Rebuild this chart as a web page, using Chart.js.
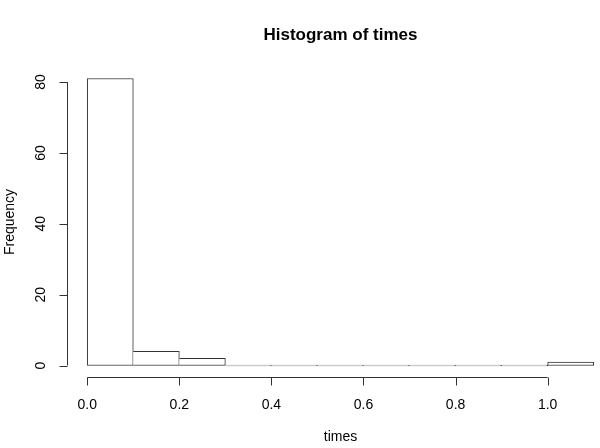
<!DOCTYPE html>
<html>
<head>
<meta charset="utf-8">
<style>
  html, body { margin: 0; padding: 0; background: #fff; }
  #wrap { width: 600px; height: 448px; position: relative; }
</style>
<script src="https://cdn.jsdelivr.net/npm/chart.js@4/dist/chart.umd.min.js"></script>
</head>
<body>
<div id="wrap"><canvas id="c" width="600" height="448"></canvas></div>
<script>
// ---- data ----
const breaks = [0.0, 0.1, 0.2, 0.3, 0.4, 0.5, 0.6, 0.7, 0.8, 0.9, 1.0, 1.1];
const counts = [81, 4, 2, 0, 0, 0, 0, 0, 0, 0, 1];
const xTicks = [0.0, 0.2, 0.4, 0.6, 0.8, 1.0];
const xTickLabels = ['0.0', '0.2', '0.4', '0.6', '0.8', '1.0'];
const yTicks = [0, 20, 40, 60, 80];
const yTickLabels = ['0', '20', '40', '60', '80'];
const titleText = 'Histogram of times';
const xLabel = 'times';
const yLabel = 'Frequency';

const points = counts.map((c, i) => ({ x: (breaks[i] + breaks[i + 1]) / 2, y: c }));

const FONT = '"Liberation Sans", Arial, Helvetica, sans-serif';
const INK = '#333';

const rAxes = {
  id: 'rAxes',
  afterDraw(chart) {
    const ctx = chart.ctx;
    const xs = chart.scales.x, ys = chart.scales.y;
    const area = chart.chartArea;
    ctx.save();
    ctx.strokeStyle = INK;
    ctx.fillStyle = '#000';
    ctx.lineWidth = 1;

    // y axis
    const ax = Math.round(area.left) + 0.5;
    ctx.beginPath();
    ctx.moveTo(ax, ys.getPixelForValue(yTicks[0]));
    ctx.lineTo(ax, ys.getPixelForValue(yTicks[yTicks.length - 1]));
    yTicks.forEach(v => {
      const py = Math.round(ys.getPixelForValue(v)) + 0.5;
      ctx.moveTo(ax, py);
      ctx.lineTo(ax - 8, py);
    });
    ctx.stroke();
    ctx.font = '14px ' + FONT;
    ctx.textAlign = 'center';
    ctx.textBaseline = 'middle';
    yTicks.forEach((v, i) => {
      const py = ys.getPixelForValue(v);
      ctx.save();
      ctx.translate(41.5, py);
      ctx.rotate(-Math.PI / 2);
      ctx.fillText(yTickLabels[i], 0, 0);
      ctx.restore();
    });

    // x axis
    const ay = Math.round(area.bottom) + 0.5;
    ctx.beginPath();
    ctx.moveTo(xs.getPixelForValue(xTicks[0]), ay);
    ctx.lineTo(xs.getPixelForValue(xTicks[xTicks.length - 1]), ay);
    xTicks.forEach(v => {
      const px = Math.round(xs.getPixelForValue(v)) + 0.5;
      ctx.moveTo(px, ay);
      ctx.lineTo(px, ay + 8);
    });
    ctx.stroke();
    xTicks.forEach((v, i) => {
      ctx.fillText(xTickLabels[i], xs.getPixelForValue(v), 405);
    });

    // axis titles
    const cx = xs.getPixelForValue(0.55);
    ctx.fillText(xLabel, cx, 437);
    ctx.save();
    ctx.translate(10.5, (area.top + area.bottom) / 2);
    ctx.rotate(-Math.PI / 2);
    ctx.fillText(yLabel, 0, 0);
    ctx.restore();

    // main title
    ctx.font = 'bold 17px ' + FONT;
    ctx.fillText(titleText, cx, 35);
    ctx.restore();
  }
};

new Chart(document.getElementById('c'), {
  type: 'bar',
  data: {
    datasets: [{
      label: 'times',
      data: points,
      backgroundColor: '#ffffff',
      borderColor: INK,
      borderWidth: 1,
      borderSkipped: (c) => (c.dataIndex > 0 && counts[c.dataIndex - 1] >= counts[c.dataIndex]) ? 'left' : false,
      minBarLength: 1,
      barPercentage: 1,
      categoryPercentage: 1
    }]
  },
  options: {
    responsive: false,
    animation: false,
    devicePixelRatio: 1,
    layout: { padding: { left: 67, top: 67, right: 0, bottom: 71 } },
    plugins: { legend: { display: false }, tooltip: { enabled: false }, title: { display: false } },
    scales: {
      x: { type: 'linear', display: false, min: -0.044, max: 1.1137, offset: false, grid: { offset: false } },
      y: { type: 'linear', display: false, min: -3.24, max: 84.24 }
    }
  },
  plugins: [rAxes]
});
</script>
</body>
</html>
